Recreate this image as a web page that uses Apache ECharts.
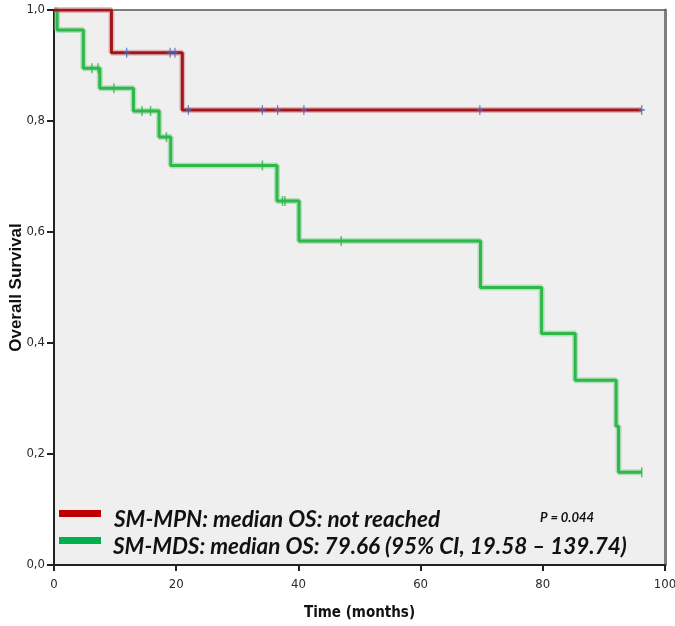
<!DOCTYPE html>
<html>
<head>
<meta charset="utf-8">
<script src="https://cdn.jsdelivr.net/npm/echarts@6/dist/echarts.min.js"></script>
<style>
html,body{margin:0;padding:0;background:#fff;}
#chart{width:675px;height:626px;}
</style>
</head>
<body>
<div id="chart"></div>
<script>
// ---- Data ----
const xTicks = [0, 20, 40, 60, 80, 100];
const yTicks = [0, 0.2, 0.4, 0.6, 0.8, 1.0];

const mpnTimes = [0, 9.4, 21.0, 96.2];
const mpnSurv  = [1.0, 0.923, 0.82, 0.82];
const mpnCensorTimes = [11.9, 19.0, 19.8, 22.0, 34.1, 36.6, 40.9, 69.7, 96.2];

const mdsTimes = [0, 0.5, 4.8, 7.5, 13.0, 17.2, 19.1, 36.5, 40.1, 69.8, 79.8, 85.3, 92.0, 92.4, 96.2];
const mdsSurv  = [1.0, 0.964, 0.895, 0.859, 0.818, 0.771, 0.720, 0.656, 0.584, 0.500, 0.417, 0.333, 0.250, 0.167, 0.167];
const mdsCensorTimes = [6.2, 7.2, 9.8, 14.4, 15.8, 18.4, 34.1, 37.4, 37.8, 47.0, 96.2];

const legendLabels = [
  'SM-MPN: median OS: not reached',
  'SM-MDS: median OS: 79.66 (95% CI, 19.58 \u2013 139.74)'
];
const pValueText = 'P = 0.044';

// ---- helpers ----
function stepPoints(times, surv){ return times.map((t,i)=>[t, surv[i]]); }
function survAt(times, surv, t){
  let s = surv[0];
  for (let i=0;i<times.length;i++){ if (times[i] <= t) s = surv[i]; }
  return s;
}
function censorPoints(ct, times, surv){ return ct.map(t=>[t, survAt(times, surv, t)]); }

const RED = '#a3141c', RED_HALO = 'rgba(200,120,125,0.45)';
const GREEN = '#2db848', GREEN_HALO = 'rgba(120,205,140,0.5)';
const BLUE = '#4a64bc';

const plusPath = 'path://M4,0H6V10H4ZM0,4.2H10V5.8H0Z';
const tickPath = 'path://M0,0H1V10H0Z';

const COND = '"DejaVu Sans Condensed", "Liberation Sans", sans-serif';

const chart = echarts.init(document.getElementById('chart'), null, {renderer:'canvas'});
const labelFont = {fontFamily:COND, fontSize:13, color:'#2a2a2a'};

chart.setOption({
  animation:false,
  backgroundColor:'#ffffff',
  grid:{left:54, right:10, top:10, bottom:61, show:true, backgroundColor:'#efefef', borderWidth:0,
        containLabel:false, outerBoundsMode:'none'},
  xAxis:[{
    type:'value', min:xTicks[0], max:xTicks[xTicks.length-1], interval:20, position:'bottom',
    axisLine:{show:true, onZero:false, lineStyle:{color:'#222', width:2}},
    axisTick:{show:true, length:6, lineStyle:{color:'#222', width:2}},
    axisLabel:Object.assign({margin:13, showMaxLabel:true, showMinLabel:true}, labelFont),
    splitLine:{show:false},
    name:'Time (months)', nameLocation:'middle', nameGap:41,
    nameTextStyle:{fontFamily:COND, fontWeight:'bold', fontSize:15, color:'#111'}
  },{
    type:'value', min:0, max:100, position:'top',
    axisLine:{show:true, onZero:false, lineStyle:{color:'#555', width:1.5}},
    axisTick:{show:false}, axisLabel:{show:false}, splitLine:{show:false}
  }],
  yAxis:[{
    type:'value', min:yTicks[0], max:yTicks[yTicks.length-1], interval:0.2, position:'left',
    axisLine:{show:true, onZero:false, lineStyle:{color:'#222', width:2}},
    axisTick:{show:true, length:7, lineStyle:{color:'#222', width:2}},
    axisLabel:Object.assign({margin:9, formatter:v=>v.toFixed(1).replace('.', ',')}, labelFont),
    splitLine:{show:false},
    name:'Overall Survival', nameLocation:'middle', nameGap:29, nameRotate:90, nameMoveOverlap:false,
    nameTextStyle:{fontFamily:'"Liberation Sans", Arial, sans-serif', fontWeight:'bold', fontSize:17, color:'#111'}
  },{
    type:'value', min:0, max:1, position:'right',
    axisLine:{show:true, onZero:false, lineStyle:{color:'#7f7f7f', width:3}},
    axisTick:{show:false}, axisLabel:{show:false}, splitLine:{show:false}
  }],
  series:[
    {type:'line', step:'end', data:stepPoints(mdsTimes, mdsSurv), showSymbol:false, silent:true,
     lineStyle:{color:GREEN_HALO, width:6}, z:2},
    {type:'line', step:'end', data:stepPoints(mpnTimes, mpnSurv), showSymbol:false, silent:true,
     lineStyle:{color:RED_HALO, width:6}, z:2},
    {type:'line', step:'end', data:stepPoints(mdsTimes, mdsSurv), showSymbol:false,
     lineStyle:{color:GREEN, width:3}, z:3},
    {type:'line', step:'end', data:stepPoints(mpnTimes, mpnSurv), showSymbol:false,
     lineStyle:{color:RED, width:3}, z:3},
    {type:'scatter', data:censorPoints(mdsCensorTimes, mdsTimes, mdsSurv), symbol:tickPath,
     symbolSize:[1.5,10], itemStyle:{color:GREEN}, z:4},
    {type:'scatter', data:censorPoints(mpnCensorTimes, mpnTimes, mpnSurv), symbol:plusPath,
     symbolSize:[6,10], itemStyle:{color:BLUE}, z:4}
  ],
  graphic:[
    {type:'rect', left:59, top:510, shape:{width:42, height:7}, style:{fill:'#c00000'}},
    {type:'rect', left:59, top:537, shape:{width:42, height:7}, style:{fill:'#00b050'}},
    {type:'text', left:114, top:508, style:{text:legendLabels[0], font:'italic bold 22.5px Lato', fill:'#111'}},
    {type:'text', left:113, top:535, style:{text:legendLabels[1], font:'italic bold 22.5px Lato', fill:'#111'}},
    {type:'text', left:540, top:511, style:{text:pValueText, font:'italic bold 13px Lato', fill:'#111'}}
  ]
});
</script>
</body>
</html>
